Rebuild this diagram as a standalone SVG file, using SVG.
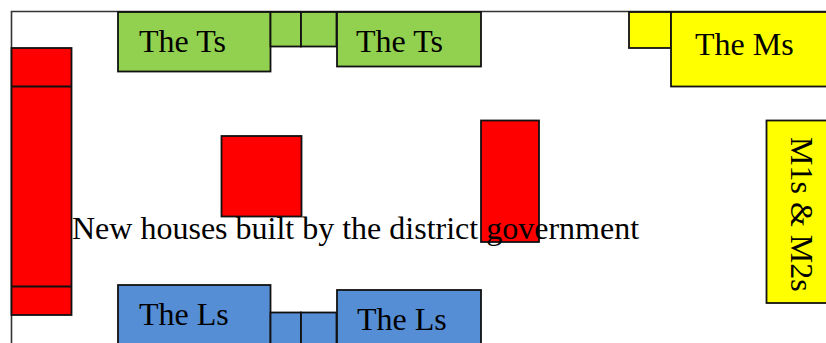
<svg xmlns="http://www.w3.org/2000/svg" width="826" height="343" viewBox="0 0 826 343">
<style>
.b{stroke:#111;stroke-width:1.8}
.red{fill:#FF0000}
.grn{fill:#92D050}
.blu{fill:#558ED5}
.yel{fill:#FFFF00}
text{font-family:"Liberation Serif","Times New Roman",serif;font-size:32px;fill:#000}
</style>
<rect width="826" height="343" fill="#fff"/>
<g id="frame">
<path d="M11.5 350 V11.5 H830" fill="none" stroke="#333" stroke-width="1.6"/>
</g>
<g id="left-red">
<rect class="red b" x="11.5" y="48" width="60" height="267"/>
<line class="b" x1="11.5" y1="86.5" x2="71.5" y2="86.5"/>
<line class="b" x1="11.5" y1="286.5" x2="71.5" y2="286.5"/>
</g>
<g id="ts1">
<rect class="grn b" x="118" y="12" width="152.5" height="59.5"/>
<text x="139" y="52">The Ts</text>
</g>
<g id="ts-small">
<rect class="grn b" x="270.5" y="12" width="30.5" height="34.5"/>
<rect class="grn b" x="301" y="12" width="35.5" height="34.5"/>
</g>
<g id="ts2">
<rect class="grn b" x="337" y="12" width="144" height="54.5"/>
<text x="356" y="52">The Ts</text>
</g>
<g id="ms-small">
<rect class="yel b" x="629" y="12" width="42" height="36"/>
</g>
<g id="ms">
<rect class="yel b" x="671" y="12" width="170" height="74.5"/>
<text x="695" y="55">The Ms</text>
</g>
<g id="m1m2">
<rect class="yel b" x="766.5" y="120.5" width="80" height="182.5"/>
<text transform="translate(791 137) rotate(90)">M1s &amp; M2s</text>
</g>
<g id="red-square">
<rect class="red b" x="221.5" y="136" width="80" height="80.5"/>
</g>
<g id="red-tall">
<rect class="red b" x="481" y="120.5" width="58" height="121.5"/>
</g>
<g id="new-houses">
<text x="72" y="239">New houses built by the district government</text>
</g>
<g id="ls1">
<rect class="blu b" x="118" y="285" width="152.5" height="70"/>
<text x="139" y="324.5">The Ls</text>
</g>
<g id="ls-small">
<rect class="blu b" x="270.5" y="312.5" width="30.5" height="40"/>
<rect class="blu b" x="301" y="312.5" width="35.5" height="40"/>
</g>
<g id="ls2">
<rect class="blu b" x="337" y="290" width="144" height="65"/>
<text x="357" y="329.5">The Ls</text>
</g>
</svg>
